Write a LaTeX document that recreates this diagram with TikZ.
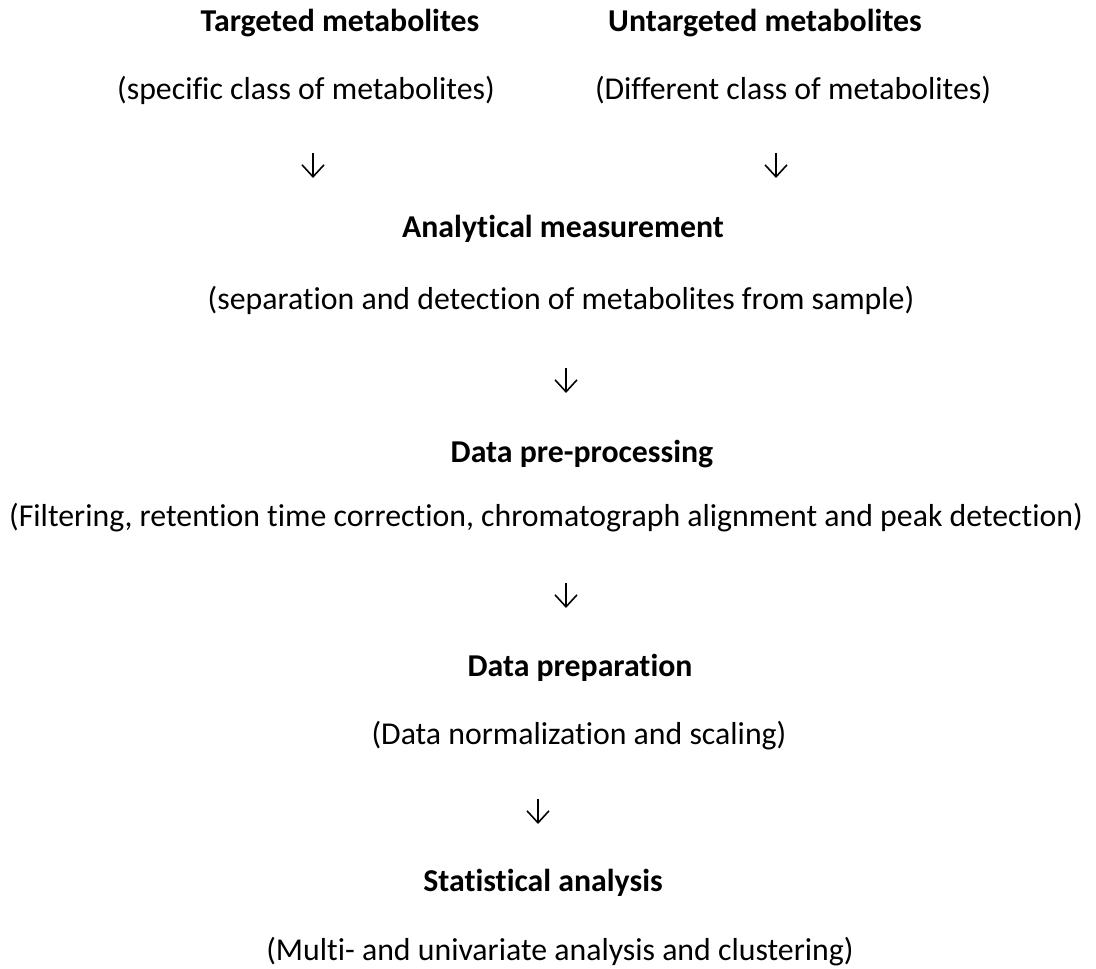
\documentclass[tikz,border=0pt]{standalone}
\usepackage{fontspec}
\setmainfont{Carlito}[Ligatures=NoCommon]
\usetikzlibrary{arrows.meta}
\tikzset{
 head/.style={anchor=base, font=\fontsize{18.1}{22}\selectfont\bfseries},
 sub/.style={anchor=base, font=\fontsize{18.1}{22}\selectfont},
 flow/.style={line width=0.9pt, -{Straight Barb[length=0.24cm, width=0.44cm, line width=0.9pt]}}
}
\begin{document}
\begin{tikzpicture}
 \useasboundingbox (0,0) rectangle (21.92,19.38);

 \node [head] (targ) at (6.80,18.74) {Targeted metabolites};
 \node [head] (untarg) at (15.30,18.74) {Untargeted metabolites};
 \node [sub] (targsub) at (6.12,17.38) {(specific class of metabolites)};
 \node [sub] (untargsub) at (15.86,17.38) {(Different class of metabolites)};
 \coordinate (a1t) at (6.26,16.32);
 \coordinate (a1b) at (6.26,15.82);
 \coordinate (a2t) at (15.52,16.32);
 \coordinate (a2b) at (15.52,15.82);
 \draw[flow] (a1t) -- (a1b);
 \draw[flow] (a2t) -- (a2b);

 \node [head] (anal) at (11.26,14.62) {Analytical measurement};
 \node [sub] (analsub) at (11.22,13.18) {(separation and detection of metabolites from sample)};
 \coordinate (a3t) at (11.32,12.02);
 \coordinate (a3b) at (11.32,11.52);
 \draw[flow] (a3t) -- (a3b);

 \node [head] (pre) at (11.64,10.12) {Data pre-processing};
 \node [sub] (presub) at (10.92,8.84) {(Filtering, retention time correction, chromatograph alignment and peak detection)};
 \coordinate (a4t) at (11.32,7.72);
 \coordinate (a4b) at (11.32,7.22);
 \draw[flow] (a4t) -- (a4b);

 \node [head] (prep) at (11.60,5.84) {Data preparation};
 \node [sub] (prepsub) at (11.58,4.48) {(Data normalization and scaling)};
 \coordinate (a5t) at (10.76,3.40);
 \coordinate (a5b) at (10.76,2.90);
 \draw[flow] (a5t) -- (a5b);

 \node [head] (stat) at (10.86,1.54) {Statistical analysis};
 \node [sub] (statsub) at (11.20,0.16) {(Multi- and univariate analysis and clustering)};
\end{tikzpicture}
\end{document}
